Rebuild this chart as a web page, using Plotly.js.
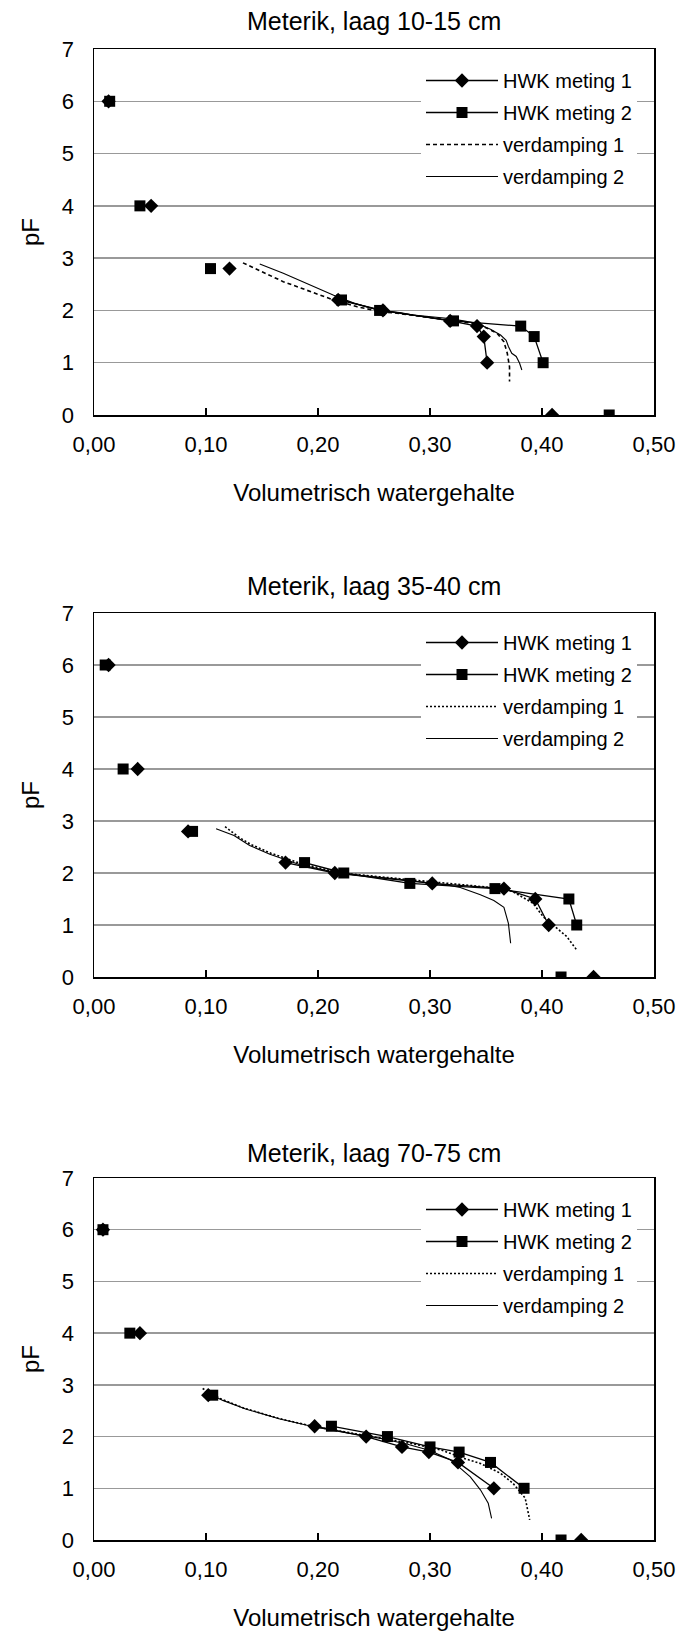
<!DOCTYPE html>
<html>
<head>
<meta charset="utf-8">
<script src="https://cdn.plot.ly/plotly-3.0.1.min.js"></script>
<style>
  html, body { margin: 0; padding: 0; background: #ffffff; }
  #chart { width: 679px; height: 1638px; }
</style>
</head>
<body>
<div id="chart"></div>
<script>
// ---------------- data ----------------
const chartTitles = ["Meterik, laag 10-15 cm", "Meterik, laag 35-40 cm", "Meterik, laag 70-75 cm"];
const seriesNames = ["HWK meting 1", "HWK meting 2", "verdamping 1", "verdamping 2"];
const xTitle = "Volumetrisch watergehalte";
const yTitle = "pF";

// pF levels of the HWK (hangwaterkolom) measurements
const hwkPF = [0, 1.0, 1.5, 1.7, 1.8, 2.0, 2.2, 2.8, 4.0, 6.0];

// layer 10-15 cm
const l1_hwk1 = [0.409, 0.351, 0.348, 0.342, 0.318, 0.258, 0.218, 0.121, 0.051, 0.013];
const l1_hwk2 = [0.460, 0.401, 0.393, 0.381, 0.321, 0.255, 0.221, 0.104, 0.041, 0.014];
const l1_ver1_theta = [0.133, 0.169, 0.214, 0.235, 0.255, 0.273, 0.315, 0.339, 0.351, 0.360, 0.366, 0.369, 0.371, 0.371];
const l1_ver1_pF    = [2.91, 2.55, 2.20, 2.07, 1.98, 1.94, 1.82, 1.75, 1.66, 1.56, 1.40, 1.18, 0.92, 0.64];
const l1_ver2_theta = [0.148, 0.169, 0.214, 0.232, 0.255, 0.273, 0.285, 0.315, 0.330, 0.342, 0.354, 0.363, 0.368, 0.370, 0.373, 0.377, 0.380, 0.382];
const l1_ver2_pF    = [2.89, 2.71, 2.29, 2.14, 2.00, 1.96, 1.91, 1.85, 1.80, 1.75, 1.64, 1.53, 1.43, 1.31, 1.18, 1.12, 0.99, 0.86];

// layer 35-40 cm
const l2_hwk1 = [0.446, 0.406, 0.394, 0.366, 0.302, 0.215, 0.171, 0.084, 0.039, 0.013];
const l2_hwk2 = [0.417, 0.431, 0.424, 0.358, 0.282, 0.223, 0.188, 0.088, 0.026, 0.010];
const l2_ver1_theta = [0.117, 0.130, 0.140, 0.158, 0.185, 0.220, 0.273, 0.330, 0.365, 0.374, 0.392, 0.401, 0.413, 0.422, 0.431];
const l2_ver1_pF    = [2.89, 2.68, 2.55, 2.38, 2.18, 2.00, 1.89, 1.78, 1.70, 1.64, 1.42, 1.16, 0.94, 0.78, 0.52];
const l2_ver2_theta = [0.109, 0.125, 0.139, 0.157, 0.184, 0.220, 0.273, 0.315, 0.327, 0.345, 0.357, 0.366, 0.370, 0.372];
const l2_ver2_pF    = [2.85, 2.72, 2.53, 2.36, 2.16, 1.99, 1.88, 1.77, 1.72, 1.58, 1.47, 1.34, 1.03, 0.65];

// layer 70-75 cm
const l3_hwk1 = [0.435, 0.357, 0.325, 0.299, 0.275, 0.243, 0.197, 0.102, 0.041, 0.008];
const l3_hwk2 = [0.417, 0.384, 0.354, 0.326, 0.300, 0.262, 0.212, 0.106, 0.032, 0.008];
const l3_ver1_theta = [0.097, 0.112, 0.134, 0.165, 0.195, 0.226, 0.255, 0.285, 0.310, 0.330, 0.345, 0.363, 0.374, 0.385, 0.389];
const l3_ver1_pF    = [2.93, 2.74, 2.55, 2.35, 2.20, 2.08, 1.98, 1.86, 1.74, 1.58, 1.48, 1.29, 1.10, 0.81, 0.39];
const l3_ver2_theta = [0.099, 0.115, 0.136, 0.166, 0.196, 0.226, 0.255, 0.280, 0.300, 0.318, 0.327, 0.336, 0.345, 0.352, 0.355];
const l3_ver2_pF    = [2.87, 2.70, 2.53, 2.34, 2.19, 2.07, 1.97, 1.85, 1.73, 1.55, 1.39, 1.22, 0.97, 0.71, 0.42];

const xTicks = [0, 0.1, 0.2, 0.3, 0.4, 0.5];
const yTicks = [0, 1, 2, 3, 4, 5, 6, 7];

// ---------------- helpers ----------------
// HWK points are only joined between pF 1.0 and 2.2; others stand alone
function hwkXY(theta) {
  const x = [], y = [];
  for (let i = 0; i < hwkPF.length; i++) {
    if (i > 0) {
      const a = hwkPF[i - 1], b = hwkPF[i];
      const joined = a >= 1.0 && b <= 2.2 && b >= 1.0 && a <= 2.2;
      if (!joined) { x.push(null); y.push(null); }
    }
    x.push(theta[i]); y.push(hwkPF[i]);
  }
  return {x, y};
}

const FONT = '"Liberation Sans", Arial, sans-serif';

const layers = [
  {hwk1: l1_hwk1, hwk2: l1_hwk2, v1x: l1_ver1_theta, v1y: l1_ver1_pF, v2x: l1_ver2_theta, v2y: l1_ver2_pF, dash: "4px,3px"},
  {hwk1: l2_hwk1, hwk2: l2_hwk2, v1x: l2_ver1_theta, v1y: l2_ver1_pF, v2x: l2_ver2_theta, v2y: l2_ver2_pF, dash: "2px,2px"},
  {hwk1: l3_hwk1, hwk2: l3_hwk2, v1x: l3_ver1_theta, v1y: l3_ver1_pF, v2x: l3_ver2_theta, v2y: l3_ver2_pF, dash: "2px,2px"}
];

// pixel geometry of the three plot areas (top, bottom) in a 1638 px tall page
const H = 1638;
const plotBoxes = [[49, 415], [613, 977], [1178, 1540]];
const titleY = [21, 586, 1153];
const legendTop = [61, 623, 1190];

const traces = [];
const layout = {
  width: 679, height: H,
  margin: {l: 94, r: 25, t: 0, b: 0},
  paper_bgcolor: "#ffffff", plot_bgcolor: "#ffffff",
  separators: ", ",
  font: {family: FONT, size: 22, color: "#000000"},
  showlegend: true,
  annotations: []
};

layers.forEach((L, k) => {
  const sfx = k === 0 ? "" : String(k + 1);
  const xa = "x" + sfx, ya = "y" + sfx;
  const lg = "legend" + sfx;
  const h1 = hwkXY(L.hwk1), h2 = hwkXY(L.hwk2);
  traces.push({x: h1.x, y: h1.y, xaxis: xa, yaxis: ya, legend: lg, name: seriesNames[0], legendgroup: "a" + k,
    mode: "lines+markers", connectgaps: false, line: {color: "#000", width: 1.3},
    marker: {symbol: "diamond", size: 11, color: "#000"}});
  traces.push({x: h2.x, y: h2.y, xaxis: xa, yaxis: ya, legend: lg, name: seriesNames[1], legendgroup: "b" + k,
    mode: "lines+markers", connectgaps: false, line: {color: "#000", width: 1.3},
    marker: {symbol: "square", size: 11, color: "#000"}});
  traces.push({x: L.v1x, y: L.v1y, xaxis: xa, yaxis: ya, legend: lg, name: seriesNames[2], legendgroup: "c" + k,
    mode: "lines", line: {color: "#000", width: 1.6, dash: L.dash}});
  traces.push({x: L.v2x, y: L.v2y, xaxis: xa, yaxis: ya, legend: lg, name: seriesNames[3], legendgroup: "d" + k,
    mode: "lines", line: {color: "#000", width: 1.1}});

  const top = plotBoxes[k][0], bot = plotBoxes[k][1];
  layout["xaxis" + sfx] = {
    anchor: ya, domain: [0, 1], range: [0, 0.5], tickvals: xTicks, tickformat: ".2f",
    ticks: "inside", ticklen: 7, tickwidth: 1.2, tickcolor: "#000",
    showline: true, mirror: true, linecolor: "#000", linewidth: 1.5,
    showgrid: false, zeroline: false, ticklabelstandoff: 9,
    tickfont: {family: FONT, size: 22},
    title: {text: xTitle, font: {family: FONT, size: 24}, standoff: 28}
  };
  layout["yaxis" + sfx] = {
    anchor: xa, domain: [1 - bot / H, 1 - top / H], range: [0, 7], tickvals: yTicks,
    ticks: "", showline: true, mirror: true, linecolor: "#000", linewidth: 1.5,
    showgrid: true, gridcolor: "#999999", gridwidth: 1.5, zeroline: false,
    ticklabelstandoff: 14, tickfont: {family: FONT, size: 22},
    title: {text: yTitle, font: {family: FONT, size: 24}, standoff: 15}
  };
  layout[lg] = {
    x: (421 - 94) / 560, y: 1 - legendTop[k] / H, xanchor: "left", yanchor: "top",
    xref: "paper", yref: "paper",
    bgcolor: "#ffffff", borderwidth: 0, tracegroupgap: 3, itemwidth: 72,
    font: {family: FONT, size: 20, color: "#000"}
  };
  layout.annotations.push({
    text: chartTitles[k], xref: "paper", yref: "paper", x: 0.5, y: 1 - titleY[k] / H,
    xanchor: "center", yanchor: "middle", showarrow: false,
    font: {family: FONT, size: 25, color: "#000"}
  });
});

Plotly.newPlot("chart", traces, layout, {staticPlot: true, displayModeBar: false});
</script>
</body>
</html>
